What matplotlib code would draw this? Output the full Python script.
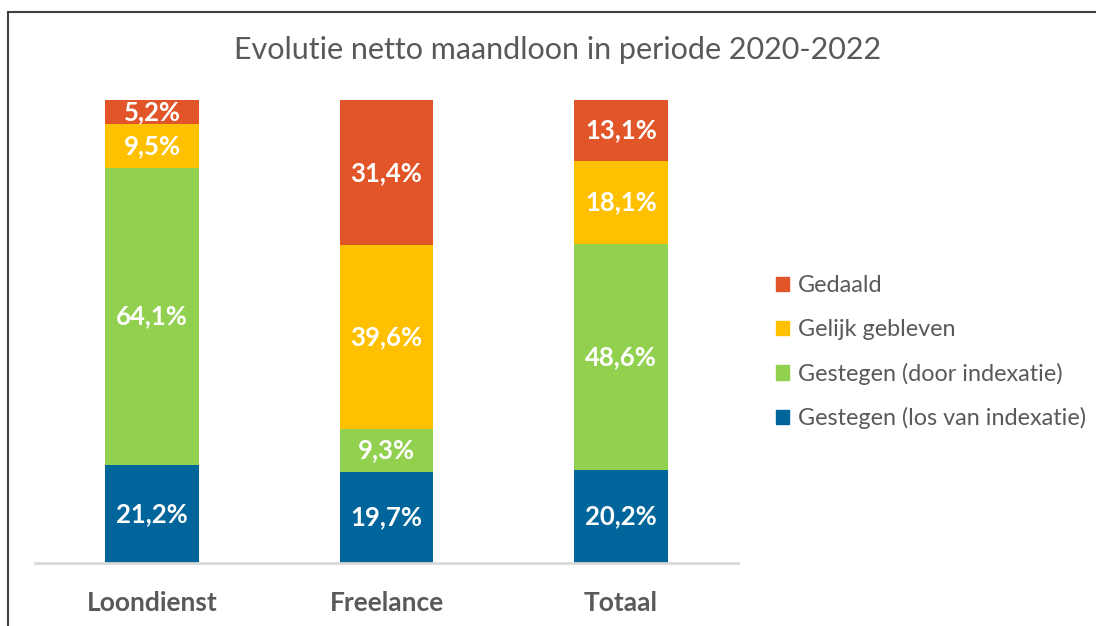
import matplotlib.pyplot as plt
from matplotlib.lines import Line2D
from matplotlib.patches import Patch

categories = ["Loondienst", "Freelance", "Totaal"]
series = ["Gestegen (los van indexatie)", "Gestegen (door indexatie)",
          "Gelijk gebleven", "Gedaald"]
los_van_indexatie = [21.2, 19.7, 20.2]
door_indexatie = [64.1, 9.3, 48.6]
gelijk = [9.5, 39.6, 18.1]
gedaald = [5.2, 31.4, 13.1]
values = [los_van_indexatie, door_indexatie, gelijk, gedaald]
colors = ["#00659A", "#92D050", "#FFC000", "#E15528"]

plt.rcParams['font.family'] = ['Lato', 'DejaVu Sans']
gray = "#595959"

fig = plt.figure(figsize=(10.96, 6.26), dpi=100)
ax = fig.add_axes([0.032, 0.1006, 0.6414, 0.7396])

x = range(len(categories))
bottom = [0, 0, 0]
for name, vals, col in zip(series, values, colors):
    ax.bar(x, vals, width=0.4, bottom=bottom, color=col, label=name)
    for i, v in enumerate(vals):
        ax.text(i, bottom[i] + v / 2, f"{v:.1f}%".replace(".", ","),
                ha="center", va="center", color="white",
                fontsize=18.5, fontweight="bold")
    bottom = [b + v for b, v in zip(bottom, vals)]

ax.set_xlim(-0.5, 2.5)
ax.set_ylim(0, 100)
for s in ["top", "right", "left"]:
    ax.spines[s].set_visible(False)
ax.spines["bottom"].set_color("#D9D9D9")
ax.spines["bottom"].set_linewidth(2)
ax.set_yticks([])
ax.set_xticks(list(x))
ax.set_xticklabels(categories, fontsize=19, fontweight="bold", color=gray)
ax.tick_params(axis="x", length=0, pad=20)

fig.text(0.509, 0.92, "Evolutie netto maandloon in periode 2020-2022",
         ha="center", va="center", fontsize=22, color=gray)

handles = [Patch(color=c) for c in colors[::-1]]
leg = fig.legend(handles, series[::-1], loc="center left",
                 bbox_to_anchor=(0.708, 0.437), frameon=False,
                 fontsize=16.8, labelcolor=gray, handlelength=0.55,
                 handleheight=0.55, handletextpad=0.4, labelspacing=0.97,
                 borderaxespad=0, borderpad=0)

# outer frame (left and top only)
fig.add_artist(Line2D([0.0073, 0.0073], [0, 0.981], color="#404040", lw=1.5,
                      transform=fig.transFigure))
fig.add_artist(Line2D([0.0073, 1.0], [0.981, 0.981], color="#404040", lw=1.5,
                      transform=fig.transFigure))

fig.savefig("out.png", dpi=100)
